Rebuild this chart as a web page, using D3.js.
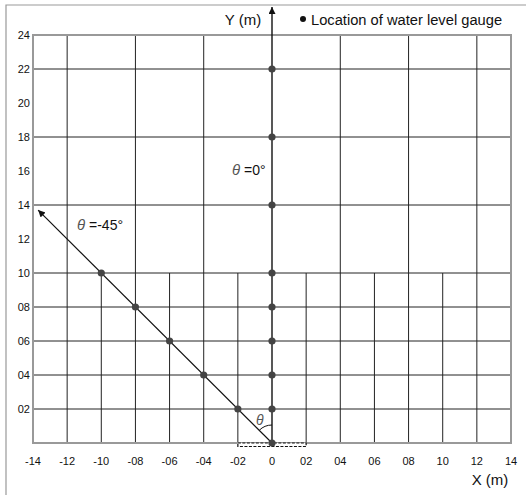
<!DOCTYPE html>
<html>
<head>
<meta charset="utf-8">
<script src="https://cdn.jsdelivr.net/npm/d3@7"></script>
<style>
  body { margin: 0; background: #fff; }
  svg { display: block; font-family: "Liberation Sans", Arial, sans-serif; }
</style>
</head>
<body>
<div id="chart"></div>
<script>
// grid layout (m)
const xTicks = [-14, -12, -10, -8, -6, -4, -2, 0, 2, 4, 6, 8, 10, 12, 14];
const xTickLabels = ['-14', '-12', '-10', '-08', '-06', '-04', '-02', '0', '02', '04', '06', '08', '10', '12', '14'];
const yTicks = [2, 4, 6, 8, 10, 12, 14, 16, 18, 20, 22, 24];
const yTickLabels = ['02', '04', '06', '08', '10', '12', '14', '16', '18', '20', '22', '24'];
const upperGridX = [-12, -8, -4, 4, 8, 12];
const lowerGridX = [-12, -10, -8, -6, -4, -2, 2, 4, 6, 8, 10, 12];
const gridY = [2, 4, 6, 8, 10, 14, 18, 22];

// water level gauges
const gaugesAxis = [
  { x: 0, y: 0 }, { x: 0, y: 2 }, { x: 0, y: 4 }, { x: 0, y: 6 }, { x: 0, y: 8 },
  { x: 0, y: 10 }, { x: 0, y: 14 }, { x: 0, y: 18 }, { x: 0, y: 22 }
];
const gaugesDiag = [
  { x: -2, y: 2 }, { x: -4, y: 4 }, { x: -6, y: 6 }, { x: -8, y: 8 }, { x: -10, y: 10 }
];

const width = 526;
const height = 495;

const svg = d3.select('#chart')
  .append('svg')
  .attr('width', width)
  .attr('height', height);

const x = d3.scaleLinear().domain([-14, 14]).range([33, 511]);
const y = d3.scaleLinear().domain([0, 24]).range([443, 35]);

const defs = svg.append('defs');
defs.append('marker')
  .attr('id', 'arrow')
  .attr('viewBox', '0 0 10 10')
  .attr('refX', 10)
  .attr('refY', 5)
  .attr('markerWidth', 10)
  .attr('markerHeight', 7)
  .attr('markerUnits', 'userSpaceOnUse')
  .attr('orient', 'auto')
  .append('path')
  .attr('d', 'M0,0 L10,5 L0,10 Z')
  .attr('fill', '#111');

// outer frame
svg.append('path')
  .attr('d', `M6,${height} L6,5 L${width},5`)
  .attr('fill', 'none')
  .attr('stroke', '#999')
  .attr('stroke-width', 1.2);

const grid = svg.append('g').attr('stroke', '#222').attr('stroke-width', 1);

grid.selectAll('.vu')
  .data(upperGridX)
  .join('line')
  .attr('x1', d => x(d)).attr('x2', d => x(d))
  .attr('y1', y(10)).attr('y2', y(24));

grid.selectAll('.vl')
  .data(lowerGridX)
  .join('line')
  .attr('class', 'vl')
  .attr('x1', d => x(d)).attr('x2', d => x(d))
  .attr('y1', y(0)).attr('y2', y(10));

grid.selectAll('.h')
  .data(gridY)
  .join('line')
  .attr('class', 'h')
  .attr('x1', x(-14)).attr('x2', x(14))
  .attr('y1', d => y(d)).attr('y2', d => y(d));

// plot border
svg.append('rect')
  .attr('x', x(-14)).attr('y', y(24))
  .attr('width', x(14) - x(-14)).attr('height', y(0) - y(24))
  .attr('fill', 'none')
  .attr('stroke', '#999')
  .attr('stroke-width', 2);

// dashed box at the origin
svg.append('rect')
  .attr('x', x(-2)).attr('y', y(0))
  .attr('width', x(2) - x(-2)).attr('height', 3.5)
  .attr('fill', '#fff')
  .attr('stroke', '#111')
  .attr('stroke-width', 1.2)
  .attr('stroke-dasharray', '3,1.5');

// y axis with arrow
svg.append('line')
  .attr('x1', x(0)).attr('x2', x(0))
  .attr('y1', y(0)).attr('y2', 7)
  .attr('stroke', '#111')
  .attr('stroke-width', 1.4)
  .attr('marker-end', 'url(#arrow)');

// theta = -45 line
svg.append('line')
  .attr('x1', x(0)).attr('y1', y(0))
  .attr('x2', x(-13.7)).attr('y2', y(13.7))
  .attr('stroke', '#111')
  .attr('stroke-width', 1.2)
  .attr('marker-end', 'url(#arrow)');

// angle arc
const r = 18;
svg.append('path')
  .attr('d', `M${x(0) - r * Math.SQRT1_2},${y(0) - r * Math.SQRT1_2} A${r},${r} 0 0 1 ${x(0)},${y(0) - r}`)
  .attr('fill', 'none')
  .attr('stroke', '#111')
  .attr('stroke-width', 1);

// gauges
svg.append('g')
  .selectAll('circle')
  .data(gaugesAxis.concat(gaugesDiag))
  .join('circle')
  .attr('cx', d => x(d.x))
  .attr('cy', d => y(d.y))
  .attr('r', 3.6)
  .attr('fill', '#444');

// tick labels
svg.append('g')
  .selectAll('text')
  .data(yTicks)
  .join('text')
  .attr('x', 30)
  .attr('y', d => y(d) + 4)
  .attr('text-anchor', 'end')
  .attr('font-size', 11)
  .attr('fill', '#111')
  .text((d, i) => yTickLabels[i]);

svg.append('g')
  .selectAll('text')
  .data(xTicks)
  .join('text')
  .attr('x', d => x(d))
  .attr('y', 465)
  .attr('text-anchor', 'middle')
  .attr('font-size', 11)
  .attr('fill', '#111')
  .text((d, i) => xTickLabels[i]);

// axis titles
svg.append('text')
  .attr('x', 490).attr('y', 485)
  .attr('text-anchor', 'middle')
  .attr('font-size', 15)
  .attr('fill', '#111')
  .text('X (m)');

svg.append('text')
  .attr('x', 243).attr('y', 25)
  .attr('text-anchor', 'middle')
  .attr('font-size', 15)
  .attr('fill', '#111')
  .text('Y (m)');

// legend
svg.append('circle')
  .attr('cx', 303).attr('cy', 19)
  .attr('r', 3)
  .attr('fill', '#111');
svg.append('text')
  .attr('x', 311).attr('y', 25)
  .attr('font-size', 14.7)
  .attr('fill', '#111')
  .text('Location of water level gauge');

// angle labels
function thetaLabel(px, py, rest, size) {
  const t = svg.append('text')
    .attr('x', px).attr('y', py)
    .attr('font-size', size)
    .attr('fill', '#111');
  t.append('tspan')
    .attr('font-style', 'italic')
    .attr('fill', '#555')
    .attr('font-size', size + 1)
    .text('θ');
  if (rest) t.append('tspan').text(rest);
}

thetaLabel(232, 175, ' =0°', 14);
thetaLabel(77, 230, ' =-45°', 14);
thetaLabel(256, 425, '', 13);
</script>
</body>
</html>
